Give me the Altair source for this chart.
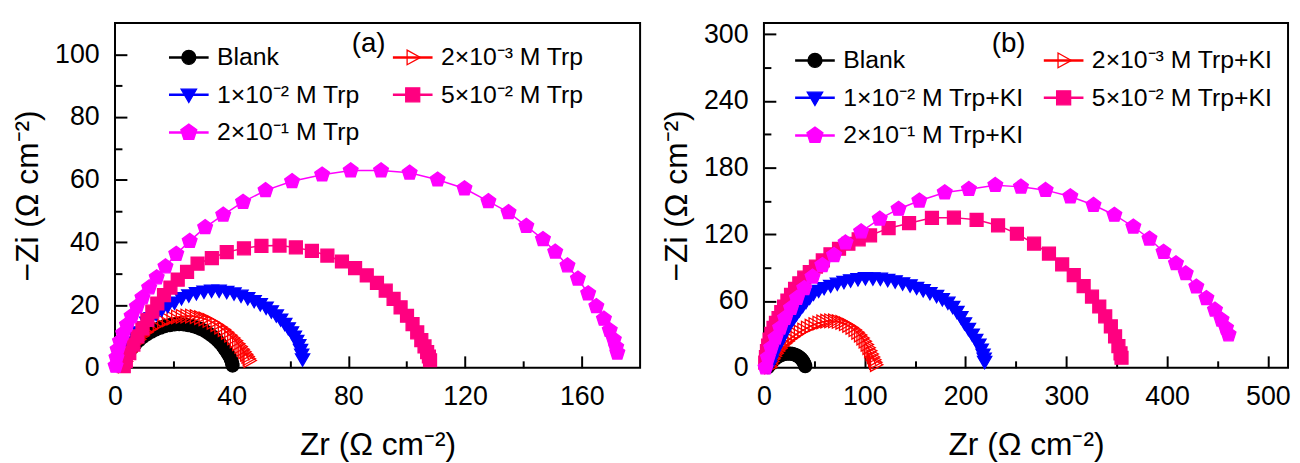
import altair as alt
import pandas as pd

FONT = "Liberation Sans"

# ---------------- panel (a) data ----------------
LABELS_A = ["Blank", "2×10⁻³ M Trp", "1×10⁻² M Trp", "5×10⁻² M Trp", "2×10⁻¹ M Trp"]

ZR_A_BLANK = [2.8, 3.4, 4.1, 5.0, 6.0, 7.1, 8.3, 9.6, 11.0, 12.5, 14.0, 15.6, 17.2, 18.8, 20.4, 22.0, 23.6, 25.1,
              26.6, 28.0, 29.4, 30.7, 31.9, 33.0, 34.1, 35.1, 36.0, 36.8, 37.5, 38.2, 38.8, 39.3, 39.7, 40.0, 40.2, 40.3]
ZI_A_BLANK = [0.8, 2.3, 3.8, 5.2, 6.5, 7.7, 8.8, 9.8, 10.7, 11.5, 12.2, 12.8, 13.3, 13.6, 13.8, 13.9, 13.8, 13.6,
              13.3, 12.9, 12.4, 11.8, 11.1, 10.4, 9.6, 8.8, 7.9, 7.0, 6.1, 5.2, 4.3, 3.5, 2.7, 2.0, 1.3, 0.7]

ZR_A_2E3 = [3.0, 3.6, 4.3, 5.1, 6.0, 7.0, 8.1, 9.3, 10.6, 12.0, 13.4, 14.9, 16.4, 18.0, 19.6, 21.2, 22.8, 24.4, 26.0,
            27.6, 29.1, 30.6, 32.0, 33.4, 34.7, 36.0, 37.2, 38.3, 39.4, 40.4, 41.3, 42.1, 42.9, 43.6, 44.2, 44.8,
            45.3, 45.7, 46.0]
ZI_A_2E3 = [0.6, 2.0, 3.5, 5.0, 6.4, 7.8, 9.0, 10.2, 11.3, 12.3, 13.2, 14.0, 14.7, 15.3, 15.8, 16.2, 16.4, 16.5, 16.5,
            16.3, 16.0, 15.6, 15.1, 14.5, 13.8, 13.0, 12.2, 11.3, 10.4, 9.5, 8.6, 7.7, 6.8, 5.9, 5.1, 4.3, 3.6, 2.9, 2.3]

ZR_A_1E2 = [3.2, 3.8, 4.5, 5.3, 6.2, 7.2, 8.3, 9.5, 10.9, 12.4, 14.1, 16.0, 18.1, 20.4, 22.8, 25.3, 27.9, 30.5, 33.1,
            35.7, 38.3, 40.8, 43.2, 45.5, 47.7, 49.8, 51.8, 53.6, 55.3, 56.8, 58.2, 59.4, 60.5, 61.5, 62.3, 63.0,
            63.6, 64.0, 64.3]
ZI_A_1E2 = [1.0, 2.8, 4.6, 6.4, 8.1, 9.8, 11.4, 13.0, 14.5, 15.9, 17.3, 18.6, 19.8, 20.9, 22.3, 23.2, 23.9, 24.4, 24.7,
            24.7, 24.3, 23.8, 23.1, 22.3, 21.4, 20.4, 19.3, 18.1, 16.8, 15.5, 14.1, 12.7, 11.4, 10.0, 8.7, 7.3, 5.8,
            4.3, 2.8]

ZR_A_5E2 = [3.0, 3.7, 4.9, 6.3, 7.7, 9.4, 11.1, 12.8, 14.5, 16.8, 19.0, 21.5, 24.7, 28.3, 33.2, 38.3, 44.2, 50.2,
            56.4, 62.0, 67.5, 72.8, 77.8, 82.3, 86.3, 89.8, 92.8, 95.5, 97.9, 100.1, 102.0, 103.6, 105.0, 106.1,
            107.0, 107.6, 108.0]
ZI_A_5E2 = [0.5, 2.1, 4.7, 7.4, 10.0, 12.6, 15.3, 17.9, 20.5, 23.2, 25.6, 28.1, 30.6, 33.2, 35.0, 36.9, 38.1, 38.9,
            39.0, 38.4, 37.3, 35.8, 33.9, 31.8, 29.5, 27.1, 24.6, 22.0, 19.3, 16.6, 13.9, 11.3, 8.8, 6.8, 5.0, 3.6, 2.4]

ZR_A_2E1 = [0.2, 0.5, 0.9, 1.7, 2.8, 4.1, 5.7, 7.5, 9.4, 11.7, 14.3, 17.3, 21.0, 25.6, 30.9, 37.1, 43.9, 51.6, 60.7,
            71.0, 80.8, 91.2, 101.0, 110.6, 119.8, 128.0, 134.9, 141.0, 146.7, 150.9, 155.1, 158.7, 162.2, 165.0,
            167.6, 169.6, 171.0, 171.8, 172.2]
ZI_A_2E1 = [0.6, 3.2, 5.8, 8.4, 11.0, 13.7, 16.5, 19.5, 22.4, 25.6, 28.8, 32.3, 36.3, 40.4, 44.8, 48.8, 52.9, 56.6,
            59.5, 61.6, 62.9, 62.9, 62.2, 60.0, 57.2, 53.1, 49.6, 45.2, 41.0, 37.0, 32.6, 28.4, 23.7, 19.6, 15.6,
            12.0, 9.0, 6.6, 4.8]

# ---------------- panel (b) data ----------------
LABELS_B = ["Blank", "2×10⁻³ M Trp+KI", "1×10⁻² M Trp+KI", "5×10⁻² M Trp+KI", "2×10⁻¹ M Trp+KI"]

ZR_B_BLANK = [4.0, 5.5, 7.2, 9.0, 11.0, 13.0, 15.2, 17.4, 19.6, 21.8, 24.0, 26.2, 28.3, 30.3, 32.2, 34.0, 35.6, 37.0,
              38.2, 39.2, 40.0, 40.6, 41.0]
ZI_B_BLANK = [0.5, 2.6, 4.6, 6.4, 8.0, 9.4, 10.6, 11.5, 12.2, 12.6, 12.8, 12.7, 12.4, 11.9, 11.2, 10.3, 9.2, 8.0, 6.7,
              5.3, 3.9, 2.6, 1.4]

ZR_B_2E3 = [6.0, 6.8, 7.8, 9.0, 10.4, 12.0, 13.8, 15.8, 18.0, 20.4, 23.0, 25.8, 28.8, 32.0, 35.3, 38.8, 42.4, 46.1,
            49.9, 53.8, 57.7, 61.6, 65.5, 69.3, 73.0, 76.6, 80.1, 83.4, 86.6, 89.6, 92.4, 95.0, 97.4, 99.6, 101.6,
            103.4, 105.0, 106.5, 107.8, 109.0, 110.0, 110.9]
ZI_B_2E3 = [0.8, 3.2, 5.6, 8.0, 10.4, 12.8, 15.1, 17.4, 19.6, 21.8, 23.9, 26.0, 28.0, 30.0, 32.0, 33.9, 35.7, 37.4,
            38.9, 40.2, 41.2, 41.9, 42.2, 42.1, 41.6, 40.8, 39.6, 38.1, 36.3, 34.2, 31.9, 29.4, 26.7, 23.9, 21.0,
            18.1, 15.2, 12.4, 9.7, 7.2, 4.9, 2.8]

ZR_B_1E2 = [5.6, 7.2, 8.9, 11.2, 13.8, 16.2, 18.7, 21.1, 23.6, 26.5, 29.5, 32.3, 35.2, 38.4, 41.7, 45.4, 49.2, 54.3,
            59.7, 66.2, 72.8, 79.4, 86.0, 93.3, 100.7, 108.1, 115.5, 122.8, 130.2, 137.6, 145.0, 151.5, 158.0, 164.7,
            171.3, 177.0, 182.5, 187.3, 191.5, 195.4, 199.0, 202.9, 206.7, 210.1, 213.3, 215.6, 217.4, 218.5, 219.0]
ZI_B_1E2 = [1.6, 6.0, 10.5, 15.0, 19.4, 23.8, 28.3, 32.8, 37.3, 41.0, 44.7, 48.4, 52.1, 55.8, 59.5, 63.3, 67.0, 69.5,
            72.0, 74.0, 75.9, 77.4, 78.9, 79.9, 80.9, 80.7, 80.4, 79.2, 78.0, 76.2, 74.4, 72.2, 70.0, 67.5, 64.9, 62.0,
            58.8, 55.0, 50.6, 45.8, 40.3, 35.2, 30.0, 25.4, 21.0, 16.5, 12.0, 8.5, 5.5]

ZR_B_5E2 = [1.3, 2.0, 3.0, 4.2, 5.6, 7.4, 9.5, 11.9, 14.5, 17.2, 20.0, 23.3, 26.9, 30.9, 35.1, 40.0, 45.5, 51.6, 58.4,
            66.0, 74.5, 83.8, 94.0, 105.3, 123.7, 144.0, 166.7, 188.5, 211.0, 232.3, 251.0, 268.0, 282.8, 295.9,
            307.4, 317.2, 325.5, 332.7, 338.6, 344.2, 348.4, 351.7, 353.8, 354.8]
ZI_B_5E2 = [4.6, 9.5, 15.0, 20.0, 25.4, 30.5, 35.8, 40.3, 44.7, 50.0, 55.1, 60.5, 65.5, 71.0, 75.9, 81.0, 86.0, 91.0,
            96.5, 102.0, 107.0, 111.5, 115.5, 119.0, 125.5, 130.0, 134.8, 135.0, 133.0, 128.0, 120.5, 111.6, 102.7,
            92.9, 83.3, 73.5, 64.0, 55.1, 46.2, 37.3, 28.3, 19.4, 13.0, 9.0]

ZR_B_2E1 = [1.6, 4.0, 7.2, 11.5, 16.1, 21.0, 26.9, 32.8, 40.0, 48.2, 58.0, 69.6, 81.0, 96.4, 114.9, 133.6, 154.2,
            179.4, 203.4, 229.6, 255.0, 279.5, 304.0, 327.0, 347.7, 366.5, 382.5, 396.5, 408.8, 418.5, 429.0, 439.0,
            447.5, 454.0, 458.5, 461.0]
ZI_B_2E1 = [0.2, 9.1, 18.0, 26.9, 35.8, 44.7, 53.7, 62.6, 71.5, 81.8, 92.2, 101.2, 112.5, 122.5, 133.9, 142.8, 150.2,
            157.6, 160.6, 164.2, 162.7, 159.7, 154.0, 146.3, 137.4, 126.8, 116.0, 104.1, 93.8, 84.8, 72.9, 62.5, 52.1,
            43.2, 35.8, 29.9]

# axis ticks
XA_MAJOR = [0, 40, 80, 120, 160]
XA_MINOR = [20, 60, 100, 140]
YA_MAJOR = [0, 20, 40, 60, 80, 100]
YA_MINOR = [10, 30, 50, 70, 90]
XB_MAJOR = [0, 100, 200, 300, 400, 500]
XB_MINOR = [50, 150, 250, 350, 450]
YB_MAJOR = [0, 60, 120, 180, 240, 300]
YB_MINOR = [30, 90, 150, 210, 270]

# styles
COLORS = ["#000000", "#ff0000", "#0000ff", "#ff0080", "#ff00ff"]
FILLS = ["#000000", "transparent", "#0000ff", "#ff0080", "#ff00ff"]
SHAPES = [
    "circle",
    "M-0.8,-1.05L1.1,0L-0.8,1.05Z",
    "M-1.1,-0.8L1.1,-0.8L0,1.1Z",
    "square",
    "M0,-1.2L1.141,-0.371L0.705,0.971L-0.705,0.971L-1.141,-0.371Z",
]
LINE_SYMBOL = "M-2.83,0L2.83,0"


def make_df(labels, series):
    rows = []
    for lab, (zr, zi) in zip(labels, series):
        for i, (a, b) in enumerate(zip(zr, zi)):
            rows.append({"series": lab, "idx": i, "zr": a, "zi": b})
    return pd.DataFrame(rows)


def panel(df, labels, xdom, ydom, xmaj, xmin, ymaj, ymin, tag, tag_xy, lx, ly, colpad, width, height):
    xs = alt.Scale(domain=xdom, nice=False, zero=False)
    ys = alt.Scale(domain=ydom, nice=False, zero=False)
    common_leg = dict(orient="none", legendX=lx, legendY=ly, columns=2, columnPadding=colpad,
                      direction="horizontal", rowPadding=12, symbolSize=200, symbolOffset=13, labelOffset=16,
                      labelLimit=600, labelFont=FONT, labelFontSize=25, title=None)
    leg_line = alt.Legend(symbolType=LINE_SYMBOL, symbolStrokeWidth=2.5, labelColor="black", **common_leg)
    leg_pt = alt.Legend(labelOpacity=0, symbolStrokeWidth=1.3, symbolOpacity=1, **common_leg)

    lines = alt.Chart(df).mark_line(strokeWidth=1.5).encode(
        x=alt.X("zr:Q", scale=xs, axis=alt.Axis(values=xmin, orient="bottom", offset=-7, tickSize=7,
                                                 tickWidth=2, tickColor="black", labels=False, domain=False,
                                                 grid=False, title=None)),
        y=alt.Y("zi:Q", scale=ys, axis=alt.Axis(values=ymin, orient="left", offset=-7, tickSize=7,
                                                 tickWidth=2, tickColor="black", labels=False, domain=False,
                                                 grid=False, title=None)),
        color=alt.Color("series:N", scale=alt.Scale(domain=labels, range=COLORS), legend=leg_line),
        order="idx:Q",
    )
    points = alt.Chart(df).mark_point(size=170, strokeWidth=1.3, opacity=1).encode(
        x=alt.X("zr:Q", scale=xs, title="Zr (Ω cm⁻²)",
                axis=alt.Axis(values=xmaj, orient="bottom", offset=-12, tickSize=12, tickWidth=2,
                              tickColor="black", domain=False, grid=False, labelFont=FONT, labelFontSize=27,
                              labelColor="black", labelPadding=16, labelFlush=False, titleFont=FONT,
                              titleFontSize=32, titleFontWeight="normal", titleColor="black", titlePadding=21)),
        y=alt.Y("zi:Q", scale=ys, title="−Zi (Ω cm⁻²)",
                axis=alt.Axis(values=ymaj, orient="left", offset=-12, tickSize=12, tickWidth=2,
                              tickColor="black", domain=False, grid=False, labelFont=FONT, labelFontSize=27,
                              labelColor="black", labelPadding=16, labelFlush=False, titleFont=FONT,
                              titleFontSize=32, titleFontWeight="normal", titleColor="black", titlePadding=10)),
        fill=alt.Fill("series:N", scale=alt.Scale(domain=labels, range=FILLS), legend=leg_pt),
        stroke=alt.Stroke("series:N", scale=alt.Scale(domain=labels, range=COLORS), legend=leg_pt),
        shape=alt.Shape("series:N", scale=alt.Scale(domain=labels, range=SHAPES), legend=leg_pt),
    )
    tagc = alt.Chart(pd.DataFrame({"t": [tag]})).mark_text(
        font=FONT, fontSize=28, color="black", align="center", baseline="middle"
    ).encode(text="t:N", x=alt.value(tag_xy[0]), y=alt.value(tag_xy[1]))

    return alt.layer(lines, points, tagc).resolve_scale(
        color="independent", fill="independent", stroke="independent", shape="independent"
    ).resolve_axis(x="independent", y="independent").properties(width=width, height=height)


df_a = make_df(LABELS_A, [(ZR_A_BLANK, ZI_A_BLANK), (ZR_A_2E3, ZI_A_2E3), (ZR_A_1E2, ZI_A_1E2),
                          (ZR_A_5E2, ZI_A_5E2), (ZR_A_2E1, ZI_A_2E1)])
df_b = make_df(LABELS_B, [(ZR_B_BLANK, ZI_B_BLANK), (ZR_B_2E3, ZI_B_2E3), (ZR_B_1E2, ZI_B_1E2),
                          (ZR_B_5E2, ZI_B_5E2), (ZR_B_2E1, ZI_B_2E1)])

pa = panel(df_a, LABELS_A, [0, 180], [0, 110], XA_MAJOR, XA_MINOR, YA_MAJOR, YA_MINOR,
           "(a)", (256, 21), 49, 22, 28, 530, 348)
pb = panel(df_b, LABELS_B, [0, 520], [0, 310], XB_MAJOR, XB_MINOR, YB_MAJOR, YB_MINOR,
           "(b)", (247, 21), 26, 25, 14, 529, 348)

chart = alt.hconcat(pa, pb, spacing=18).resolve_scale(
    x="independent", y="independent", color="independent", fill="independent",
    stroke="independent", shape="independent"
).properties(
    padding={"left": 2, "top": 9, "right": 0, "bottom": 0}
).configure_view(stroke="black", strokeWidth=2)

chart.save("out.html", embed_options={"renderer": "svg", "actions": False})
